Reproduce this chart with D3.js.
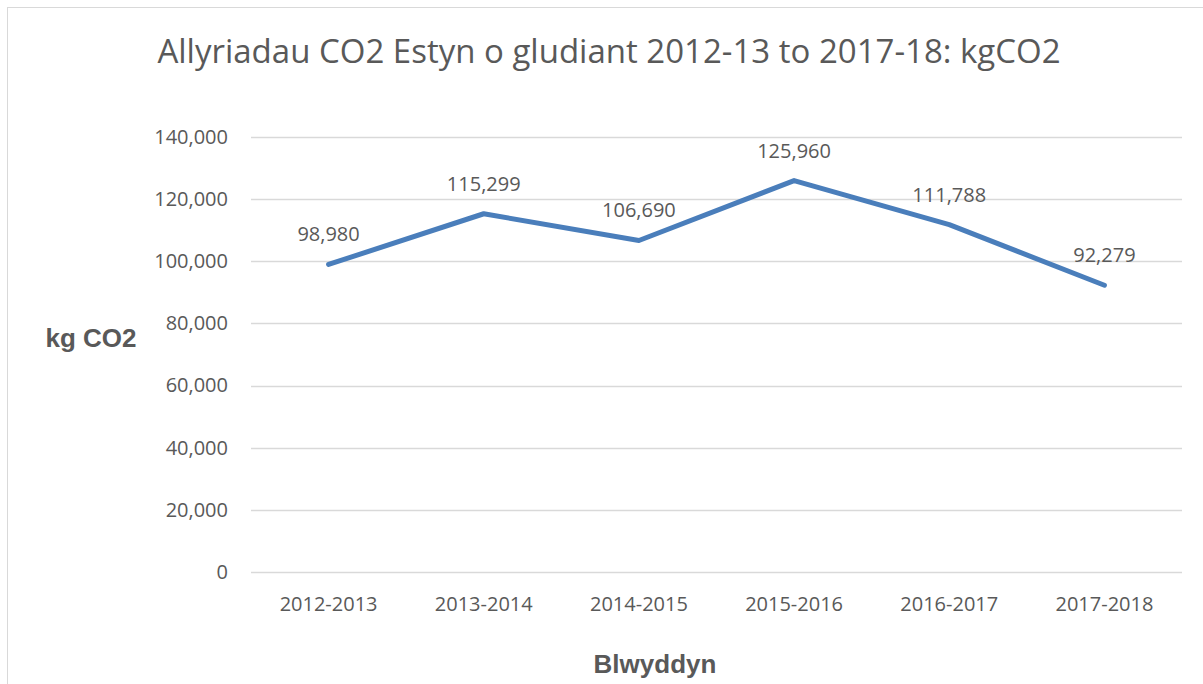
<!DOCTYPE html>
<html>
<head>
<meta charset="utf-8">
<script src="https://cdn.jsdelivr.net/npm/d3@7"></script>
<style>
  body { margin: 0; background: #fff; }
  text { font-family: "Open Sans", "Liberation Sans", sans-serif; fill: #595959; }
</style>
</head>
<body>
<svg id="chart" width="1203" height="684"></svg>
<script>
var years = ["2012-2013", "2013-2014", "2014-2015", "2015-2016", "2016-2017", "2017-2018"];
var emissions = [98980, 115299, 106690, 125960, 111788, 92279];
var yTicks = [0, 20000, 40000, 60000, 80000, 100000, 120000, 140000];

var titleText = "Allyriadau CO2 Estyn o gludiant 2012-13 to 2017-18: kgCO2";

var svg = d3.select("#chart"),
  margin = { top: 137, left: 251, bottom: 112, right: 21 },
  width = +svg.attr("width"),
  height = +svg.attr("height");

var data = years.map((y, i) => ({ year: y, value: emissions[i] }));

// chart border
svg.append("rect")
  .attr("x", 7.5).attr("y", 7.5)
  .attr("width", 1200).attr("height", 700)
  .attr("fill", "none")
  .attr("stroke", "#d9d9d9");

var x = d3.scaleBand()
  .domain(years)
  .range([margin.left, width - margin.right]);

var y = d3.scaleLinear()
  .domain([0, 140000])
  .range([height - margin.bottom, margin.top]);

// gridlines
svg.append("g")
  .selectAll("line")
  .data(yTicks)
  .enter()
  .append("line")
  .attr("x1", margin.left)
  .attr("x2", width - margin.right)
  .attr("y1", d => Math.round(y(d)) + 0.5)
  .attr("y2", d => Math.round(y(d)) + 0.5)
  .attr("stroke", "#d9d9d9")
  .attr("stroke-width", 1.5);

var yAxis = svg.append("g")
  .attr("transform", `translate(${margin.left},0)`)
  .call(d3.axisLeft(y).tickValues(yTicks).tickFormat(d3.format(",")).tickSize(0).tickPadding(23));
yAxis.select(".domain").remove();
yAxis.selectAll("text")
  .style("font-size", "20px")
  .attr("fill", "#595959");

var xAxis = svg.append("g")
  .attr("transform", `translate(0,${height - margin.bottom})`)
  .call(d3.axisBottom(x).tickSize(0).tickPadding(25));
xAxis.select(".domain").remove();
xAxis.selectAll("text")
  .style("font-size", "20px")
  .attr("fill", "#595959");

var line = d3.line()
  .x(d => x(d.year) + x.bandwidth() / 2)
  .y(d => y(d.value));

svg.append("path")
  .datum(data)
  .attr("fill", "none")
  .attr("stroke", "#4a7ebb")
  .attr("stroke-width", 5)
  .attr("stroke-linejoin", "round")
  .attr("stroke-linecap", "round")
  .attr("d", line);

// data labels
svg.append("g")
  .selectAll("text")
  .data(data)
  .enter()
  .append("text")
  .attr("text-anchor", "middle")
  .attr("x", d => x(d.year) + x.bandwidth() / 2)
  .attr("y", d => y(d.value) - 23)
  .style("font-size", "20px")
  .text(d => d3.format(",")(d.value));

svg.append("text")
  .attr("x", 609)
  .attr("y", 63)
  .attr("text-anchor", "middle")
  .style("font-size", "33px")
  .text(titleText);

svg.append("text")
  .attr("x", 91)
  .attr("y", 347)
  .attr("text-anchor", "middle")
  .style("font-family", "'Liberation Sans', Arial, sans-serif")
  .style("font-size", "26px")
  .style("font-weight", "bold")
  .text("kg CO2");

svg.append("text")
  .attr("x", 655)
  .attr("y", 673)
  .attr("text-anchor", "middle")
  .style("font-family", "'Liberation Sans', Arial, sans-serif")
  .style("font-size", "26px")
  .style("font-weight", "bold")
  .text("Blwyddyn");
</script>
</body>
</html>
